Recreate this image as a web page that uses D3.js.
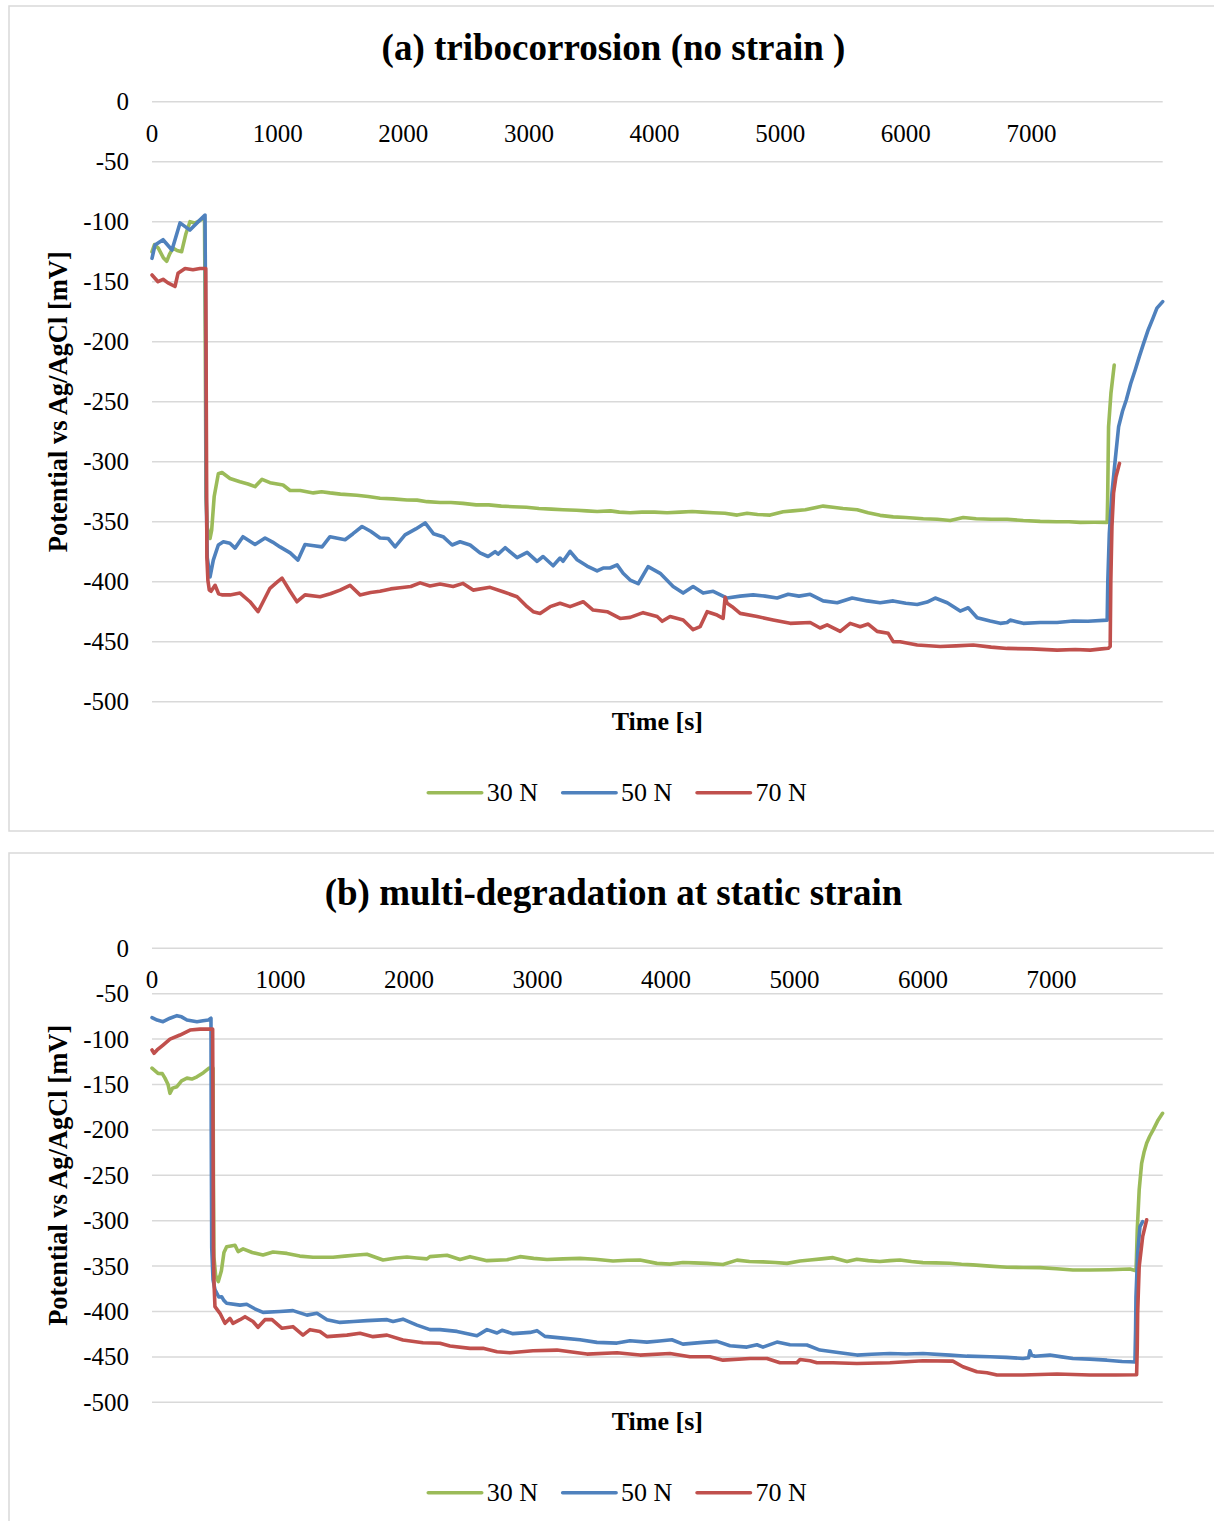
<!DOCTYPE html>
<html>
<head>
<meta charset="utf-8">
<script src="https://cdn.jsdelivr.net/npm/d3@7"></script>
<style>
  body { margin: 0; background: #fff; }
  svg { display: block; }
</style>
</head>
<body>
<svg id="chart" width="1214" height="1521"></svg>
<script>
// ---- series definitions ----
const seriesNames = ["30 N", "50 N", "70 N"];
const seriesColors = ["#9BBB59", "#4F81BD", "#C0504D"];

// ---- axis ticks ----
const yTickValues = [0, -50, -100, -150, -200, -250, -300, -350, -400, -450, -500];
const yTickLabels = ["0", "-50", "-100", "-150", "-200", "-250", "-300", "-350", "-400", "-450", "-500"];
const xTickValues = [0, 1000, 2000, 3000, 4000, 5000, 6000, 7000];
const xTickLabels = ["0", "1000", "2000", "3000", "4000", "5000", "6000", "7000"];

const titleA = "(a) tribocorrosion (no strain )";
const titleB = "(b) multi-degradation at static strain";
const xAxisTitle = "Time [s]";
const yAxisTitle = "Potential vs Ag/AgCl [mV]";

// ---- (a) tribocorrosion, no strain: [time s, potential mV] ----
const a30 = [[0,-125],[20,-119],[50,-122],[90,-130],[117,-133],[140,-127],[167,-122],[200,-124],[236,-125],[270,-110],[302,-100],[340,-101],[366,-100],[395,-98],[418,-97],
  [424,-200],[430,-330],[440,-355],[462,-364],[475,-357],[495,-329],[528,-310],[557,-309],[621,-314],[700,-316.7],[764,-318.6],[820,-320.8],[876,-314.7],[939,-317.5],[1043,-319.4],[1099,-324],[1180,-324],[1284,-326],[1350,-325],[1417,-326],[1500,-327],[1630,-328],[1720,-329],[1815,-330.5],[1920,-331],[2030,-331.9],[2110,-332],[2190,-333.3],[2293,-334],[2380,-334],[2476,-334.7],[2580,-336],[2680,-336],[2780,-337],[2874,-337.5],[2980,-338],[3080,-339],[3180,-339.5],[3272,-340],[3380,-340.5],[3460,-341],[3543,-341.5],[3650,-341],[3720,-342],[3806,-342.5],[3900,-342],[4000,-342],[4100,-342.5],[4204,-342],[4300,-341.5],[4380,-342],[4467,-342.5],[4560,-343],[4658,-344.5],[4737,-343],[4820,-344],[4920,-344.5],[5024,-341.7],[5100,-341],[5200,-340],[5342,-337],[5420,-338],[5500,-339],[5613,-340],[5700,-342.5],[5796,-344.7],[5900,-346],[6000,-346.5],[6139,-347.5],[6250,-348],[6354,-349],[6457,-346.5],[6560,-347.5],[6680,-348],[6807,-348],[6935,-349],[7070,-349.7],[7200,-350],[7300,-350],[7389,-350.6],[7500,-350.5],[7603,-350.6],
  [7607,-330],[7614,-271],[7633,-243],[7659,-219.5]];

const a50 = [[0,-130.5],[24,-119.5],[88,-115],[159,-123.6],[223,-101],[302,-107],[358,-101],[422,-94.5],
  [428,-200],[432,-330],[440,-380],[462,-396],[488,-382],[528,-369.4],[568,-366.7],[620,-368],[661,-372],[724,-362.5],[820,-369],[900,-363.6],[960,-367],[1019,-371],[1100,-376],[1162,-382],[1218,-369],[1290,-370],[1354,-371],[1417,-362.5],[1537,-365],[1600,-360],[1672,-354],[1740,-358],[1815,-363.6],[1880,-364],[1935,-371],[2014,-361],[2100,-356],[2174,-351],[2240,-360],[2317,-362.5],[2389,-369.4],[2452,-366.7],[2532,-369.4],[2611,-376],[2675,-379],[2731,-375],[2755,-377],[2811,-371.7],[2906,-380],[2986,-375.6],[3065,-383],[3113,-379],[3193,-386.7],[3248,-380.3],[3272,-383],[3328,-374.7],[3384,-381.7],[3463,-387],[3543,-391],[3591,-388.6],[3646,-388.6],[3702,-386],[3750,-393],[3806,-398.6],[3870,-401.7],[3949,-387.5],[4045,-393],[4148,-404],[4228,-409.5],[4307,-404],[4387,-409.5],[4467,-408],[4578,-413.6],[4682,-412],[4785,-411],[4880,-412],[4976,-413.6],[5064,-410.5],[5150,-412],[5239,-410.5],[5342,-416],[5454,-417.5],[5573,-413.6],[5693,-416],[5796,-417.5],[5900,-416],[6000,-418],[6091,-419],[6170,-417],[6234,-413.6],[6330,-417.5],[6433,-424.5],[6497,-421.7],[6568,-430],[6672,-432.8],[6752,-434.7],[6807,-434],[6831,-432],[6935,-434.7],[7070,-434],[7205,-434],[7333,-432.8],[7450,-433],[7603,-432],
  [7608,-400],[7620,-360],[7641,-326],[7667,-298.6],[7694,-271],[7725,-258],[7755,-248.6],[7790,-235],[7826,-223.6],[7860,-212],[7893,-201.4],[7930,-190],[7967,-180.6],[7999,-172],[8045,-166.6]];

const a70 = [[0,-144.4],[48,-150],[88,-148],[127,-151],[183,-154],[207,-143],[263,-139],[326,-140],[382,-139],[428,-139],
  [432,-250],[437,-380],[445,-399],[456,-407],[470,-408],[502,-403],[530,-410],[557,-411],[621,-411],[701,-409.5],[780,-416.7],[844,-425],[939,-405.5],[1000,-400],[1035,-397],[1099,-408],[1154,-416.7],[1218,-411],[1338,-412.5],[1420,-410],[1497,-407],[1576,-403],[1656,-411],[1740,-409],[1815,-408],[1900,-406],[1975,-405],[2060,-404],[2134,-401],[2213,-403.6],[2293,-402],[2397,-404],[2476,-401.4],[2556,-407],[2691,-404.7],[2795,-408.4],[2906,-412.5],[2986,-420.8],[3034,-425],[3089,-426.4],[3169,-420.8],[3248,-418],[3328,-420.8],[3432,-416.7],[3511,-423.6],[3623,-425],[3726,-430.6],[3806,-429.7],[3909,-425.8],[4021,-429],[4061,-433],[4124,-429],[4228,-431.9],[4307,-440],[4363,-437.5],[4419,-425],[4498,-427.8],[4546,-430.6],[4562,-413],[4578,-418],[4618,-420.8],[4682,-426.4],[4817,-429],[4944,-431.9],[5080,-434.7],[5239,-434],[5318,-438.6],[5374,-436],[5478,-441.4],[5557,-434.7],[5637,-437.5],[5701,-435.3],[5772,-441.4],[5860,-443],[5900,-450],[5955,-450],[6091,-452.8],[6274,-454],[6400,-453.5],[6537,-452.8],[6680,-454.5],[6807,-455.6],[7000,-456],[7205,-457],[7350,-456.5],[7468,-457],[7560,-456],[7611,-455.5],
  [7627,-454],[7632,-400],[7641,-354],[7654,-326],[7673,-312.5],[7701,-301.4]];

// ---- (b) multi-degradation at static strain ----
const b30 = [[0,-132],[47,-137.7],[80,-138],[101,-143],[125,-150],[140,-159.7],[160,-154],[194,-152.4],[230,-146],[272,-143],[310,-144],[350,-141.5],[400,-137],[444,-132],[475,-132],
  [478,-250],[482,-340],[495,-360],[516,-367],[540,-355],[560,-335],[581,-328.6],[646,-327],[670,-334],[709,-331],[780,-335],[864,-337.8],[942,-334.5],[1050,-336],[1150,-339],[1253,-340.3],[1409,-340.3],[1500,-339],[1595,-337.8],[1673,-337],[1798,-343.3],[1900,-341],[1984,-340],[2060,-341],[2140,-342],[2163,-339.6],[2296,-338],[2397,-342.7],[2475,-339.6],[2607,-344],[2763,-343],[2864,-339.6],[2970,-341.5],[3074,-342.7],[3200,-342],[3331,-341.5],[3450,-342.5],[3588,-344.4],[3700,-343.5],[3798,-343.4],[3930,-347],[4031,-347.8],[4132,-346],[4220,-346.5],[4319,-347],[4444,-348.2],[4553,-343.4],[4650,-345],[4755,-345.3],[4850,-346],[4942,-347],[5043,-344.4],[5121,-343.2],[5210,-342],[5300,-340.7],[5409,-345],[5486,-342.5],[5575,-344],[5665,-345],[5743,-344],[5821,-343.2],[5910,-345],[6000,-346.2],[6100,-346.5],[6210,-346.9],[6300,-348],[6389,-348.7],[6520,-350],[6654,-351.3],[6780,-351.5],[6911,-351.7],[7040,-353],[7167,-354.3],[7300,-354.3],[7450,-354],[7611,-353.2],[7658,-355],
  [7662,-340],[7668,-310],[7683,-266],[7702,-236.8],[7720,-225],[7741,-214.8],[7765,-207],[7792,-200],[7831,-189],[7865,-181.7]];

const b50 = [[0,-76.4],[40,-79],[86,-80.8],[140,-77],[194,-74.2],[230,-75.5],[272,-79],[350,-80.8],[397,-79.8],[440,-79],[459,-77],
  [461,-200],[465,-330],[475,-365],[490,-376],[520,-384],[542,-383.7],[560,-388],[581,-391],[685,-393],[737,-392],[800,-397],[864,-401],[996,-400],[1097,-399],[1206,-404],[1284,-402],[1362,-409],[1463,-412],[1570,-411],[1673,-410],[1829,-409],[1876,-411],[1953,-408.4],[2062,-415],[2163,-420],[2241,-420],[2374,-421.9],[2529,-426.7],[2607,-420],[2685,-423.7],[2724,-420.7],[2809,-424.4],[2942,-423],[2996,-421.1],[3058,-427.4],[3198,-429.3],[3331,-431.1],[3463,-434],[3619,-434.8],[3720,-432.2],[3852,-433.7],[3950,-432.5],[4046,-431.1],[4132,-435.9],[4288,-434],[4397,-432.9],[4498,-437.7],[4630,-439.2],[4708,-436.6],[4755,-439.2],[4864,-433.7],[4965,-436.6],[5097,-436.9],[5198,-442.5],[5354,-445.4],[5486,-448],[5600,-447],[5743,-446.2],[5870,-446.8],[6000,-446.2],[6210,-448],[6342,-449.2],[6521,-449.9],[6650,-450.5],[6778,-451.7],[6822,-451],[6833,-443.2],[6845,-448],[6872,-449.2],[6988,-448],[7080,-450],[7167,-451.7],[7300,-452.5],[7432,-453.6],[7550,-455],[7611,-455.4],[7650,-455.7],
  [7655,-420],[7658,-383.7],[7671,-336],[7689,-306.6],[7710,-301]];

const b70 = [[0,-112],[16,-115.6],[40,-112],[86,-106.5],[140,-100],[218,-95.5],[296,-90],[374,-89],[472,-89],
  [475,-200],[478,-330],[483,-370],[490,-394.6],[529,-402],[568,-413],[607,-407.6],[630,-413],[685,-409],[724,-405.7],[786,-411],[825,-417.4],[879,-409],[934,-409],[1012,-418.5],[1097,-416.7],[1175,-426],[1230,-420],[1307,-422],[1362,-427.7],[1517,-426],[1619,-424],[1720,-427.7],[1829,-426],[1953,-431.4],[2109,-434.4],[2241,-435],[2319,-438],[2475,-440.6],[2576,-440.6],[2685,-444.3],[2786,-445.4],[2965,-443.2],[3152,-442.5],[3385,-446.9],[3619,-445.4],[3798,-448],[4031,-446.2],[4187,-449.9],[4342,-449.9],[4444,-453.6],[4654,-451.7],[4786,-451.7],[4887,-456.5],[5019,-456.5],[5043,-452.8],[5121,-454.3],[5175,-456.4],[5300,-456.5],[5486,-457.2],[5743,-456.4],[6000,-454.3],[6233,-454.6],[6311,-460.8],[6420,-466.3],[6498,-467.4],[6576,-470],[6778,-470],[7043,-468.9],[7300,-470],[7500,-470],[7663,-469.6],
  [7668,-440],[7671,-402],[7683,-350.6],[7710,-317.6],[7741,-299]];

// ---- drawing ----
const FONT = "'Liberation Serif', 'Times New Roman', Times, serif";
const GRID = "#D9D9D9";
const LINE_W = 3.6;
const svg = d3.select("#chart");

const panels = [
  { title: titleA, series: [a30, a50, a70], xMax: 8045,
    frame: { x: 9, y: 6, w: 1214, h: 825 },
    plot: { left: 152, right: 1162.7, top: 101.7, bottom: 701.7 },
    titleY: 60, xTitleY: 730, legendY: 792.7 },
  { title: titleB, series: [b30, b50, b70], xMax: 7866,
    frame: { x: 9, y: 853, w: 1214, h: 700 },
    plot: { left: 152, right: 1162.7, top: 948.3, bottom: 1402.3 },
    titleY: 905, xTitleY: 1430, legendY: 1492.7 }
];

panels.forEach(p => {
  const g = svg.append("g");

  g.append("rect")
    .attr("x", p.frame.x).attr("y", p.frame.y)
    .attr("width", p.frame.w).attr("height", p.frame.h)
    .attr("fill", "#fff").attr("stroke", GRID).attr("stroke-width", 1.5);

  const x = d3.scaleLinear().domain([0, p.xMax]).range([p.plot.left, p.plot.right]);
  const y = d3.scaleLinear().domain([-500, 0]).range([p.plot.bottom, p.plot.top]);

  // horizontal gridlines
  g.append("g").selectAll("line").data(yTickValues).join("line")
    .attr("x1", p.plot.left).attr("x2", p.plot.right)
    .attr("y1", d => y(d)).attr("y2", d => y(d))
    .attr("stroke", GRID).attr("stroke-width", 1.5);

  // y tick labels
  g.append("g").selectAll("text").data(yTickValues).join("text")
    .attr("x", 129).attr("y", d => y(d) + 8.5)
    .attr("text-anchor", "end")
    .attr("font-family", FONT).attr("font-size", 25).attr("fill", "#000")
    .text((d, i) => yTickLabels[i]);

  // x tick labels hang from the zero line
  g.append("g").selectAll("text").data(xTickValues).join("text")
    .attr("x", d => x(d)).attr("y", y(0) + 40)
    .attr("text-anchor", "middle")
    .attr("font-family", FONT).attr("font-size", 25).attr("fill", "#000")
    .text((d, i) => xTickLabels[i]);

  // series lines
  const line = d3.line().x(d => x(d[0])).y(d => y(d[1]));
  p.series.forEach((data, i) => {
    g.append("path")
      .attr("d", line(data))
      .attr("fill", "none")
      .attr("stroke", seriesColors[i])
      .attr("stroke-width", LINE_W)
      .attr("stroke-linejoin", "round")
      .attr("stroke-linecap", "round");
  });

  // chart title
  g.append("text")
    .attr("x", 613.5).attr("y", p.titleY)
    .attr("text-anchor", "middle")
    .attr("font-family", FONT).attr("font-size", 37).attr("font-weight", "bold")
    .text(p.title);

  // axis titles
  g.append("text")
    .attr("x", (p.plot.left + p.plot.right) / 2).attr("y", p.xTitleY)
    .attr("text-anchor", "middle")
    .attr("font-family", FONT).attr("font-size", 26).attr("font-weight", "bold")
    .text(xAxisTitle);

  g.append("text")
    .attr("transform", `translate(67,${(p.plot.top + p.plot.bottom) / 2}) rotate(-90)`)
    .attr("text-anchor", "middle")
    .attr("font-family", FONT).attr("font-size", 26.5).attr("font-weight", "bold")
    .text(yAxisTitle);

  // legend
  const lg = g.append("g");
  let cx = 428.3;
  seriesNames.forEach((name, i) => {
    lg.append("line")
      .attr("x1", cx).attr("x2", cx + 53.4)
      .attr("y1", p.legendY).attr("y2", p.legendY)
      .attr("stroke", seriesColors[i]).attr("stroke-width", LINE_W)
      .attr("stroke-linecap", "round");
    const t = lg.append("text")
      .attr("x", cx + 58.4).attr("y", p.legendY + 8)
      .attr("font-family", FONT).attr("font-size", 26).attr("fill", "#000")
      .text(name);
    cx = cx + 58.4 + t.node().getComputedTextLength() + 24.7;
  });
});
</script>
</body>
</html>
